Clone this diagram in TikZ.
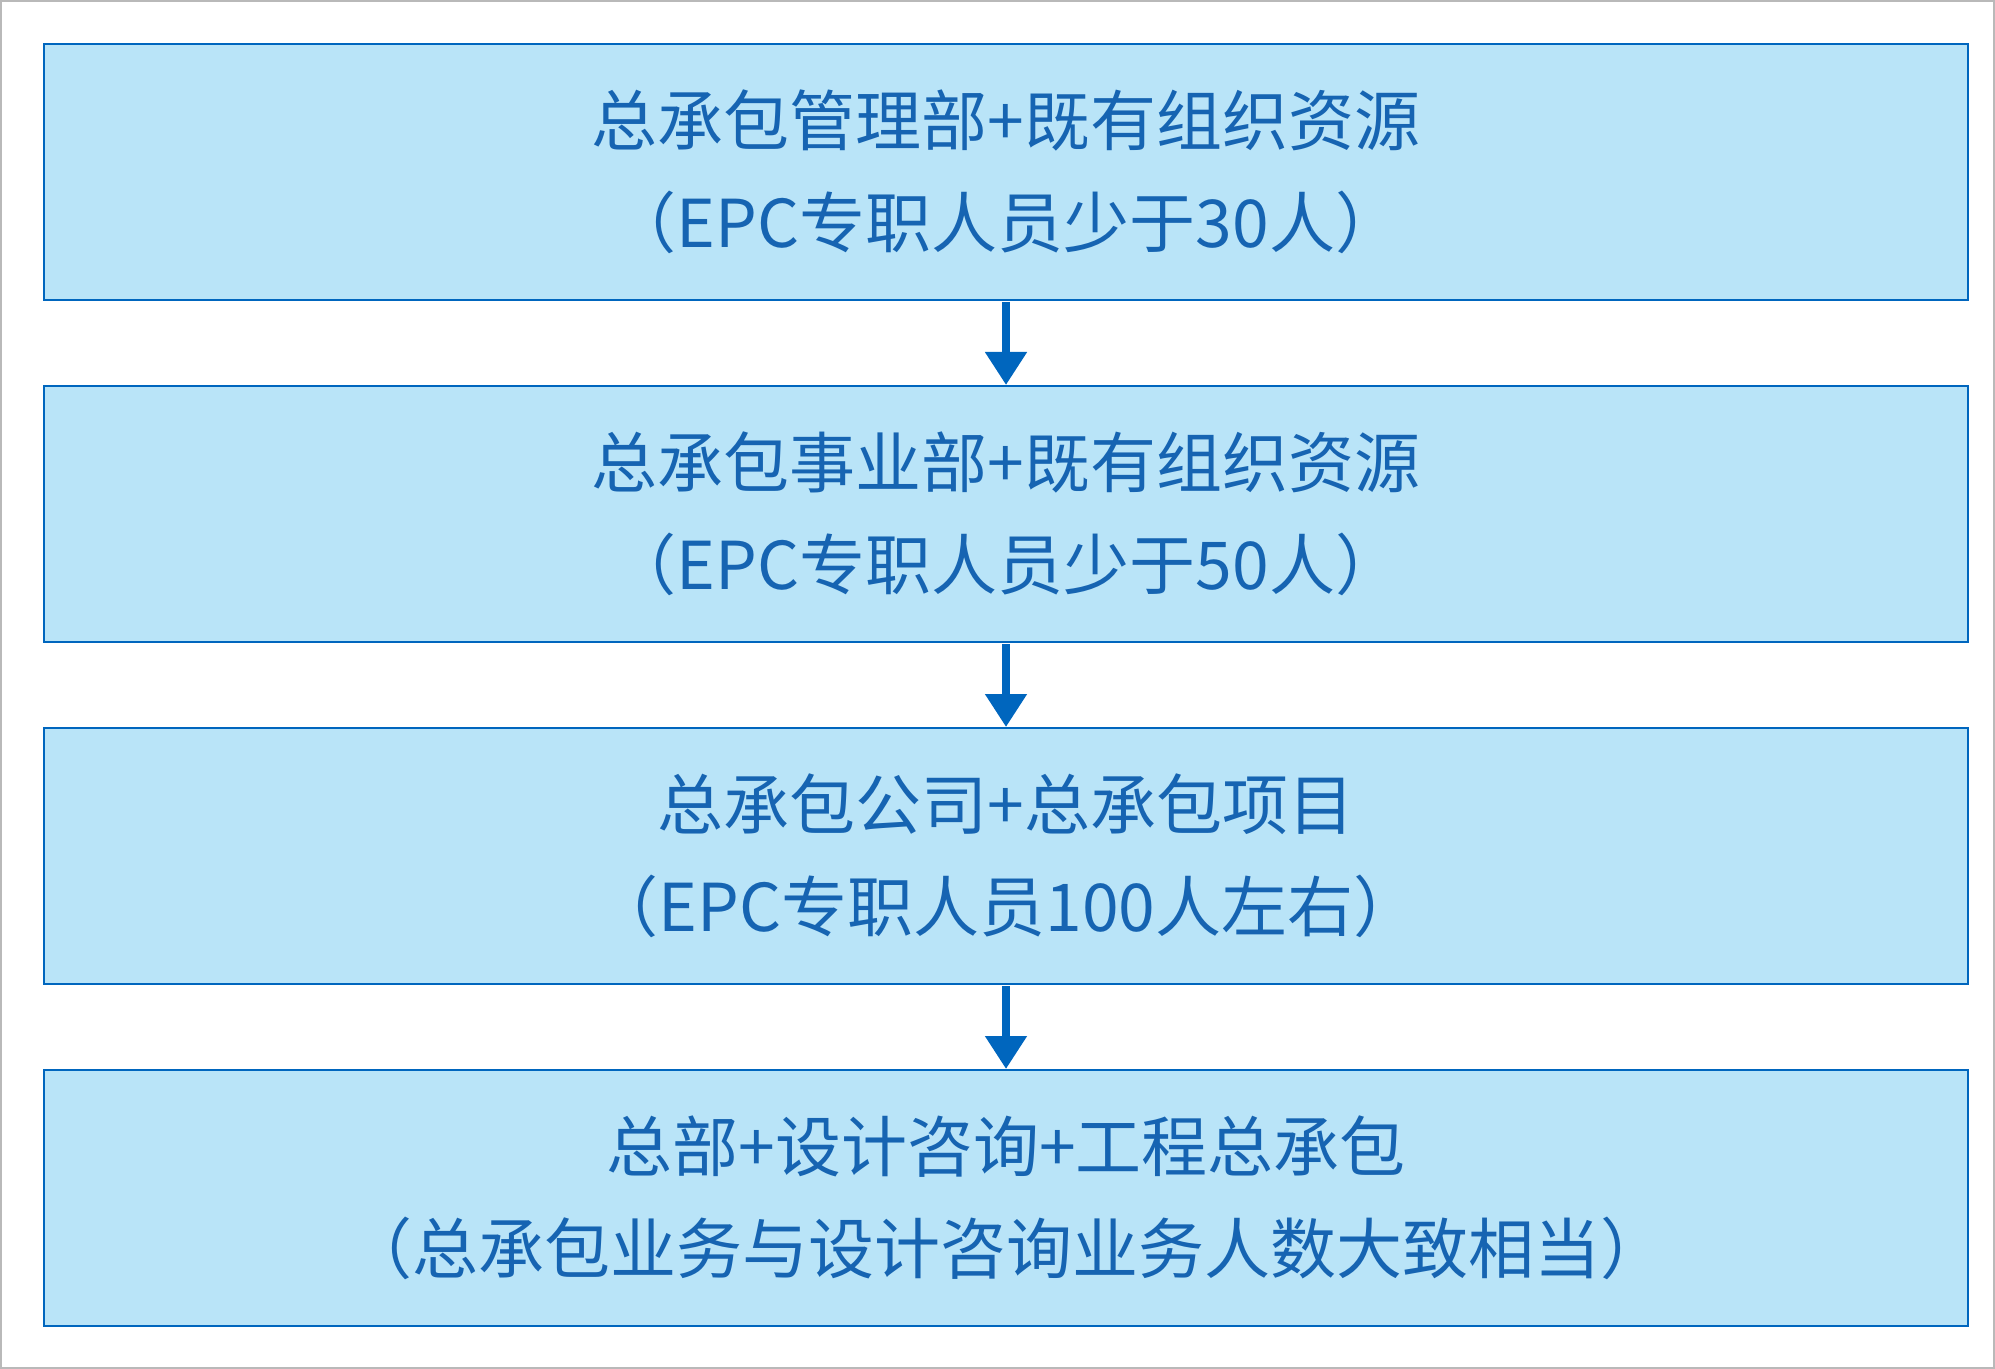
\documentclass[tikz,border=0pt]{standalone}
\usepackage{fontspec}
\newfontfamily\cjk{Noto Sans CJK SC}
\definecolor{epcblue}{RGB}{0,102,190}
\definecolor{epcfill}{RGB}{185,228,248}
\definecolor{epctext}{RGB}{22,100,178}
\usetikzlibrary{arrows.meta,positioning}

\begin{document}
\begin{tikzpicture}[x=0.5pt, y=-0.5pt,
    stage/.style={draw=epcblue, fill=epcfill, line width=1pt, minimum width=962pt, minimum height=128pt,
      align=center, text=epctext, font=\cjk\fontsize{33}{51}\selectfont, inner sep=0pt},
    flow/.style={-{Triangle[width=20pt,length=16.5pt]}, line width=4pt, epcblue, shorten <=0.5pt}]
  \useasboundingbox (0,0) rectangle (1995,1369);
  \draw[gray!55, line width=1pt] (1,1) rectangle (1994,1368);

  %% Stage boxes
  \node[stage] (b1) at (1006,172)  {总承包管理部+既有组织资源\\（EPC专职人员少于30人）};
  \node[stage] (b2) at (1006,514)  {总承包事业部+既有组织资源\\（EPC专职人员少于50人）};
  \node[stage] (b3) at (1006,856)  {总承包公司+总承包项目\\（EPC专职人员100人左右）};
  \node[stage] (b4) at (1006,1198) {总部+设计咨询+工程总承包\\（总承包业务与设计咨询业务人数大致相当）};

  %% Arrows
  \draw[flow] (b1.south) -- (b2.north);
  \draw[flow] (b2.south) -- (b3.north);
  \draw[flow] (b3.south) -- (b4.north);
\end{tikzpicture}
\end{document}
